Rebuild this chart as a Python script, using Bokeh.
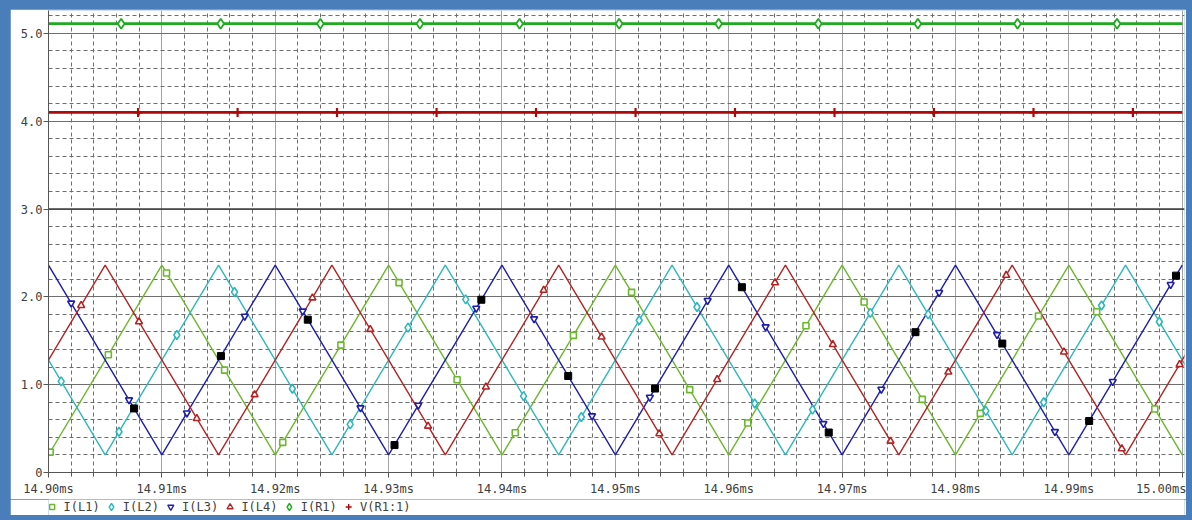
import numpy as np
from bokeh.plotting import figure
from bokeh.layouts import column
from bokeh.models import (FixedTicker, PrintfTickFormatter, Span, Range1d,
                          ColumnDataSource)
from bokeh.core.properties import value
from bokeh.embed import file_html
from bokeh.resources import INLINE

# --- waveform data (time in ms) ---------------------------------------------
# vertices of the triangular inductor currents
t_even = [14.90, 14.91, 14.92, 14.93, 14.94, 14.95, 14.96, 14.97, 14.98, 14.99, 15.00]
t_odd = [14.895, 14.905, 14.915, 14.925, 14.935, 14.945, 14.955, 14.965,
         14.975, 14.985, 14.995, 15.005]
i_l1 = [0.20, 2.36, 0.20, 2.36, 0.20, 2.36, 0.20, 2.36, 0.20, 2.36, 0.20]
i_l3 = [2.36, 0.20, 2.36, 0.20, 2.36, 0.20, 2.36, 0.20, 2.36, 0.20, 2.36]
i_l2 = [2.36, 0.20, 2.36, 0.20, 2.36, 0.20, 2.36, 0.20, 2.36, 0.20, 2.36, 0.20]
i_l4 = [0.20, 2.36, 0.20, 2.36, 0.20, 2.36, 0.20, 2.36, 0.20, 2.36, 0.20, 2.36]

# load current and load voltage (flat)
t_dc = [14.90, 15.00]
i_r1 = [5.11, 5.11]
v_r1 = [4.10, 4.10]

# symbol positions along each trace
mk_l1 = [14.90015, 14.90528, 14.91041, 14.91553, 14.92066, 14.92579, 14.93092,
         14.93604, 14.94117, 14.94630, 14.95143, 14.95656, 14.96168, 14.96681,
         14.97194, 14.97707, 14.98219, 14.98732, 14.99245, 14.99758]
mk_l2 = [14.90112, 14.90622, 14.91132, 14.91641, 14.92151, 14.92661, 14.93171,
         14.93680, 14.94190, 14.94700, 14.95210, 14.95720, 14.96229, 14.96739,
         14.97249, 14.97759, 14.98268, 14.98778, 14.99288, 14.99798]
mk_l3 = [14.90200, 14.90710, 14.91221, 14.91731, 14.92242, 14.92752, 14.93262,
         14.93773, 14.94283, 14.94794, 14.95304, 14.95814, 14.96325, 14.96835,
         14.97346, 14.97856, 14.98366, 14.98877, 14.99387, 14.99898]
mk_l4 = [14.90288, 14.90798, 14.91308, 14.91818, 14.92328, 14.92838, 14.93348,
         14.93858, 14.94368, 14.94878, 14.95388, 14.95898, 14.96408, 14.96918,
         14.97427, 14.97937, 14.98447, 14.98957, 14.99467, 14.99977]
mk_cursor = [14.90755, 14.91521, 14.92287, 14.93052, 14.93818, 14.94584, 14.95350,
             14.96116, 14.96882, 14.97647, 14.98413, 14.99179, 14.99945]
mk_r1 = [14.90641, 14.91519, 14.92398, 14.93276, 14.94155, 14.95033, 14.95911,
         14.96790, 14.97668, 14.98547, 14.99425]
mk_v1 = [14.90790, 14.91668, 14.92545, 14.93423, 14.94300, 14.95178, 14.96055,
         14.96933, 14.97810, 14.98688, 14.99565]

# axis ticks
x_ticks = [14.90, 14.91, 14.92, 14.93, 14.94, 14.95, 14.96, 14.97, 14.98, 14.99, 15.00]
x_tick_labels = ["14.90ms", "14.91ms", "14.92ms", "14.93ms", "14.94ms", "14.95ms",
                 "14.96ms", "14.97ms", "14.98ms", "14.99ms", "15.00ms"]
y_ticks = [0, 1, 2, 3, 4, 5]
y_tick_labels = ["0", "1.0", "2.0", "3.0", "4.0", "5.0"]

# trace names shown in the legend row
legend_labels = ["I(L1)", "I(L2)", "I(L3)", "I(L4)", "I(R1)", "V(R1:1)"]

# --- styling -----------------------------------------------------------------
FONT = "DejaVu Sans Mono"
TXT = "#404040"
AX = "#555555"
C_L1, C_L2, C_L3, C_L4 = "#6cb82c", "#2fb7bf", "#1f1fae", "#b52424"
C_R1, C_V1 = "#1faa1f", "#b00808"

FRAME_W, FRAME_H = 1136, 462
BORDER_L, BORDER_R = 38, 2

x_minor = [round(14.90 + 0.002 * k, 3) for k in range(51) if k % 5]
y_minor = [round(0.2 * k, 1) for k in range(27) if k % 5]

# fixed plotting frame; the bottom border holds the time axis
p = figure(frame_width=FRAME_W, frame_height=FRAME_H,
           x_range=Range1d(14.90, 15.0002), y_range=Range1d(0, 5.26),
           output_backend="svg", toolbar_location=None,
           min_border_left=BORDER_L, min_border_right=BORDER_R, min_border_top=1,
           min_border_bottom=27,
           background_fill_color="white", border_fill_color="white",
           outline_line_color=None)

xt = FixedTicker(ticks=x_ticks, minor_ticks=x_minor)
yt = FixedTicker(ticks=y_ticks, minor_ticks=y_minor)

xa = p.xaxis[0]
xa.ticker = xt
xa.formatter = PrintfTickFormatter(format="%.2fms")
xa.major_label_overrides = dict(zip(x_ticks, x_tick_labels))
ya = p.yaxis[0]
ya.ticker = yt
ya.formatter = PrintfTickFormatter(format="%.1f")
ya.major_label_overrides = dict(zip(y_ticks, y_tick_labels))

for ax in (xa, ya):
    ax.axis_label = None
    ax.axis_label_standoff = 0
    ax.axis_line_color = AX
    ax.axis_line_width = 1
    ax.major_tick_line_color = AX
    ax.major_tick_out = 5
    ax.major_tick_in = 0
    ax.major_label_text_font = FONT
    ax.major_label_text_font_size = "12px"
    ax.major_label_text_color = TXT
xa.minor_tick_line_color = AX
xa.minor_tick_out = 4
xa.minor_tick_in = 0
xa.major_label_standoff = 4
ya.minor_tick_line_color = None
ya.major_label_standoff = 1

p.xgrid.ticker = xt
p.ygrid.ticker = yt
p.xgrid.grid_line_color = "#a3a3a3"
p.ygrid.grid_line_color = "#6e6e6e"
for g in (p.xgrid, p.ygrid):
    g.minor_grid_line_color = "#6e6e6e"
    g.minor_grid_line_dash = "4 3"
    g.minor_grid_line_width = 1

p.add_layout(Span(location=3.0, dimension="width", line_color="#3c3c3c",
                  line_width=1.3, level="underlay"))

# --- traces ------------------------------------------------------------------
p.line(t_dc, i_r1, line_color=C_R1, line_width=2.6)
p.line(t_dc, v_r1, line_color=C_V1, line_width=2.6)
p.line(t_even, i_l1, line_color=C_L1, line_width=1.4)
p.line(t_odd, i_l2, line_color=C_L2, line_width=1.4)
p.line(t_even, i_l3, line_color=C_L3, line_width=1.4)
p.line(t_odd, i_l4, line_color=C_L4, line_width=1.4)

def on_trace(ts, tv, vv):
    return list(np.interp(ts, tv, vv))

p.scatter(mk_l1, on_trace(mk_l1, t_even, i_l1), marker="square", size=6,
          line_color=C_L1, fill_color="white", line_width=1.6)
p.scatter(mk_l2, on_trace(mk_l2, t_odd, i_l2), marker="diamond", size=9,
          line_color=C_L2, fill_color="white", line_width=1.6)
p.scatter(mk_l3, on_trace(mk_l3, t_even, i_l3), marker="inverted_triangle",
          size=7, line_color=C_L3, fill_color="white", line_width=1.6)
p.scatter(mk_l4, on_trace(mk_l4, t_odd, i_l4), marker="triangle", size=7,
          line_color=C_L4, fill_color="white", line_width=1.6)
p.scatter(mk_cursor, on_trace(mk_cursor, t_even, i_l3), marker="square", size=7,
          line_color="black", fill_color="black")
p.scatter(mk_r1, on_trace(mk_r1, t_dc, i_r1), marker="diamond", size=10,
          line_color=C_R1, fill_color="white", line_width=1.8)
p.scatter(mk_v1, on_trace(mk_v1, t_dc, v_r1), marker="cross", size=9,
          line_color=C_V1, line_width=2.2)

# --- legend row: a strip under the chart, laid out in pixels of its frame ----
LEG_H = 16
pitch, first_x, text_gap = 59.3, 3.7, 11.3
n = len(legend_labels)
sym_x = [first_x + pitch * k for k in range(n)]
leg = ColumnDataSource(dict(
    x=sym_x,
    tx=[x + text_gap for x in sym_x],
    y=[8.5] * n,
    label=legend_labels,
    marker=["square", "diamond", "inverted_triangle", "triangle", "diamond", "cross"],
    color=[C_L1, C_L2, C_L3, C_L4, C_R1, C_V1],
    size=[5, 7, 6, 6, 7, 6],
))

lg = figure(frame_width=FRAME_W, frame_height=LEG_H,
            x_range=Range1d(0, FRAME_W), y_range=Range1d(0, LEG_H),
            x_axis_type=None, y_axis_type=None,
            output_backend="svg", toolbar_location=None,
            min_border_left=BORDER_L, min_border_right=BORDER_R,
            min_border_top=0, min_border_bottom=0,
            background_fill_color="white", border_fill_color="white",
            outline_line_color=None)
lg.grid.visible = False
lg.scatter("x", "y", source=leg, marker="marker", size="size",
           line_color="color", fill_color="white", line_width=1.4)
lg.text("tx", "y", text="label", source=leg, text_font=value(FONT),
        text_font_size="12px", text_color=TXT, text_baseline="middle",
        text_align="left")

root = column(p, lg, spacing=0)

# page around the chart: blue window frame
page_style = """
{% block postamble %}
<style>
  html, body { background-color: #4a7ebb; }
  body { padding: 9px 6px 5px 10px; }
</style>
{% endblock %}
"""

open("out.html", "w").write(file_html(root, INLINE, template=page_style))
